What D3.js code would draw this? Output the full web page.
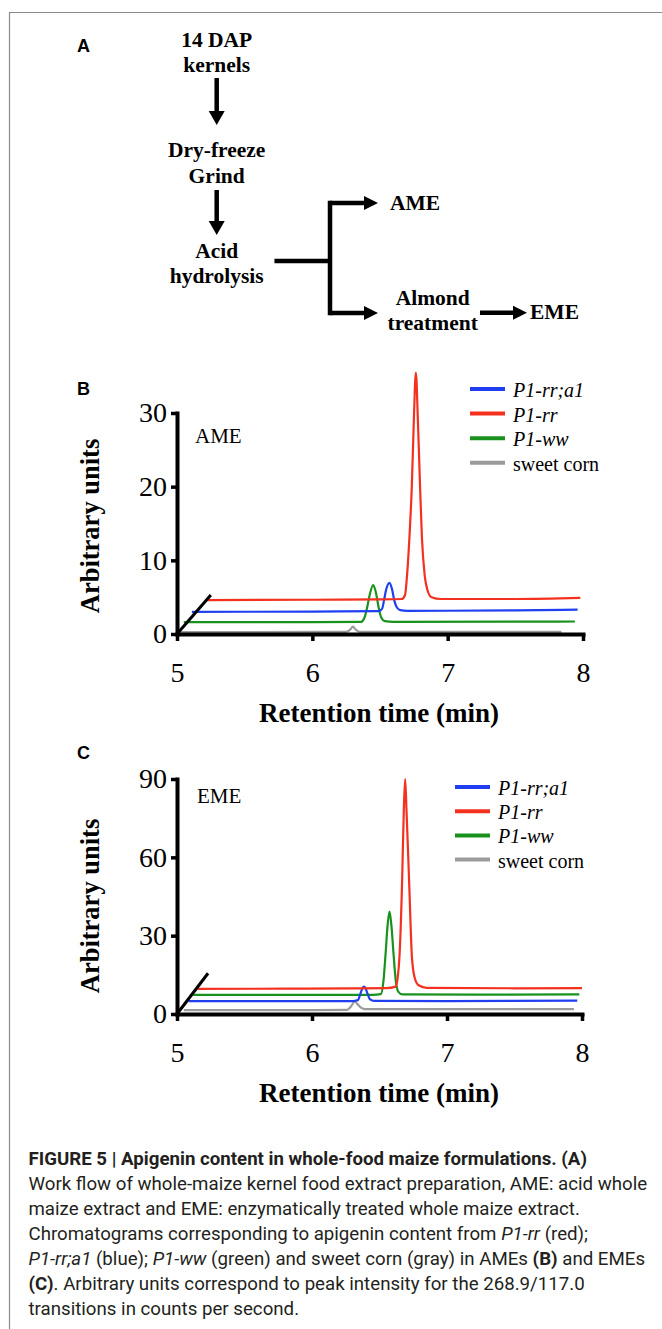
<!DOCTYPE html>
<html>
<head>
<meta charset="utf-8">
<script src="https://cdn.jsdelivr.net/npm/d3@7"></script>
<style>
body { margin: 0; background: #fff; }
svg { display: block; }
</style>
</head>
<body>
<svg id="fig" width="662" height="1329"></svg>
<script>
// tick values
var xTicks = [5, 6, 7, 8];
var ameTicks = [0, 10, 20, 30];
var emeTicks = [0, 30, 60, 90];

// legend order: blue, red, green, gray
var seriesNames = ["P1-rr;a1", "P1-rr", "P1-ww", "sweet corn"];
var seriesItalic = [true, true, true, false];
var colors = ["#1f3ff0", "#f4311f", "#18921c", "#9b9b9b"];

// chromatograms: [retention time (min), arbitrary units]
var ameBlue = [[5.11,3.0],[6.0,3.05],[6.49,3.1],[6.515,3.4],[6.53,4.6],[6.545,6.0],[6.57,6.95],[6.59,6.0],[6.605,4.6],[6.625,3.6],[6.65,3.25],[6.7,3.15],[7.5,3.2],[7.96,3.3]];
var ameRed = [[5.21,4.6],[6.0,4.65],[6.5,4.7],[6.66,4.75],[6.685,5.3],[6.70,8],[6.72,14],[6.735,20],[6.75,29],[6.765,35.5],[6.78,29],[6.796,20],[6.81,13],[6.83,8],[6.85,6],[6.88,5],[6.95,4.75],[7.5,4.75],[7.98,4.9]];
var ameGreen = [[5.05,1.6],[6.0,1.6],[6.36,1.65],[6.385,2.2],[6.405,3.6],[6.425,5.4],[6.45,6.65],[6.47,5.6],[6.49,3.6],[6.51,2.2],[6.535,1.75],[6.6,1.65],[7.94,1.7]];
var ameGray = [[5.01,0.25],[6.0,0.28],[6.25,0.3],[6.28,0.6],[6.30,1.0],[6.32,0.6],[6.35,0.3],[7.84,0.3]];

var emeBlue = [[5.085,4.9],[6.0,4.9],[6.3,4.95],[6.34,5.3],[6.36,8],[6.375,10],[6.385,10.5],[6.395,10],[6.41,8],[6.43,5.6],[6.46,5.0],[7.0,4.9],[7.965,5.1]];
var emeRed = [[5.15,9.6],[5.8,9.7],[6.3,9.8],[6.55,9.9],[6.62,10.5],[6.635,14],[6.648,22],[6.667,50],[6.68,78],[6.69,90],[6.70,78],[6.72,50],[6.74,22],[6.76,14],[6.79,11],[6.85,10],[7.5,9.85],[8.0,9.9]];
var emeGreen = [[5.12,7.3],[6.0,7.3],[6.45,7.3],[6.51,7.6],[6.53,13],[6.545,23],[6.56,34],[6.574,39.2],[6.588,34],[6.604,23],[6.62,13],[6.64,8.5],[6.67,7.5],[7.2,7.4],[7.98,7.55]];
var emeGray = [[5.05,1.5],[6.0,1.5],[6.26,1.6],[6.29,3],[6.315,4.7],[6.34,3.6],[6.36,2.5],[6.39,1.9],[7.0,1.9],[7.94,1.9]];

// axis break stroke at the origin
var ameBreak = [[5, 0], [5.25, 5.3]];
var emeBreak = [[5, 0], [5.23, 15.6]];

var svg = d3.select("#fig");
var SERIF = "'Liberation Serif', 'Times New Roman', serif";
var SANS = "'Liberation Sans', Arial, sans-serif";

// frame
svg.append("path").attr("d", "M9.5,1329V12.5H662")
  .attr("fill", "none").attr("stroke", "#8a8a8a").attr("stroke-width", 1.2);

// ---------- panel A : work flow ----------
var fc = svg.append("g");
function vArrow(x, y1, y2) {
  fc.append("line").attr("x1", x).attr("x2", x).attr("y1", y1).attr("y2", y2 - 12)
    .attr("stroke", "#000").attr("stroke-width", 4.5);
  fc.append("polygon").attr("points", [[x - 8, y2 - 14], [x + 8, y2 - 14], [x, y2]].join(" "));
}
function hArrow(x1, x2, y) {
  fc.append("line").attr("x1", x1).attr("x2", x2 - 12).attr("y1", y).attr("y2", y)
    .attr("stroke", "#000").attr("stroke-width", 4.5);
  fc.append("polygon").attr("points", [[x2 - 14, y - 7], [x2 - 14, y + 7], [x2, y]].join(" "));
}
vArrow(216.7, 78, 125);
vArrow(216.7, 190, 235);
fc.append("path").attr("d", "M276.7,261H330M330,203V313")
  .attr("fill", "none").attr("stroke", "#000").attr("stroke-width", 4.5).attr("stroke-linecap", "square");
hArrow(330, 378, 203);
hArrow(330, 378, 313);
hArrow(480, 527, 312.7);

var fcText = [
  ["14 DAP", 216.7, 46.7, "middle"], ["kernels", 216.7, 71.7, "middle"],
  ["Dry-freeze", 216.7, 156.7, "middle"], ["Grind", 216.7, 182.7, "middle"],
  ["Acid", 216.7, 258.3, "middle"], ["hydrolysis", 216.7, 283.3, "middle"],
  ["AME", 390, 210, "start"], ["Almond", 432.7, 305, "middle"],
  ["treatment", 432.7, 330, "middle"], ["EME", 530, 319.3, "start"]
];
fc.selectAll("text.fc").data(fcText).enter().append("text")
  .attr("x", function(d) { return d[1]; })
  .attr("y", function(d) { return d[2]; })
  .attr("text-anchor", function(d) { return d[3]; })
  .style("font", "bold 21.5px " + SERIF)
  .text(function(d) { return d[0]; });

svg.append("text").attr("x", 77).attr("y", 52).style("font", "bold 18px " + SANS).text("A");

// ---------- panels B, C : chromatograms ----------
function drawChart(o) {
  var g = svg.append("g");
  var x = d3.scaleLinear().domain([5, 8]).range([177, o.xr]);
  var y = d3.scaleLinear().domain([0, o.ymax]).range([o.y0, o.y1]);

  var line = d3.line()
    .x(function(d) { return x(d[0]); })
    .y(function(d) { return y(d[1]); })
    .curve(d3.curveMonotoneX);

  // gray, green, blue, red on top
  [3, 2, 0, 1].forEach(function(i) {
    g.append("path").datum(o.series[i])
      .attr("d", line)
      .attr("fill", "none")
      .attr("stroke", colors[i])
      .attr("stroke-width", 2.2);
  });

  g.append("path").datum(o.brk)
    .attr("d", d3.line().x(function(d) { return x(d[0]); }).y(function(d) { return y(d[1]); }))
    .attr("stroke", "#000").attr("stroke-width", 3);

  var xa = g.append("g").attr("transform", "translate(0," + o.y0 + ")")
    .call(d3.axisBottom(x).tickValues(xTicks).tickSize(7).tickPadding(21).tickSizeOuter(0).tickFormat(d3.format("d")));
  var ya = g.append("g").attr("transform", "translate(177,0)")
    .call(d3.axisLeft(y).tickValues(o.yTicks).tickSize(6).tickPadding(4).tickSizeOuter(0));
  [xa, ya].forEach(function(a) {
    a.select(".domain").attr("stroke", "#000").attr("stroke-width", 4).attr("stroke-linecap", "square");
    a.selectAll(".tick line").attr("stroke", "#000").attr("stroke-width", 3.5);
    a.selectAll(".tick text").attr("fill", "#000").style("font", "28px " + SERIF);
  });

  g.append("text").attr("x", 379).attr("y", o.titleY).attr("text-anchor", "middle")
    .style("font", "bold 27px " + SERIF).text("Retention time (min)");
  g.append("text").attr("transform", "translate(99," + o.yTitle + ") rotate(-90)")
    .attr("text-anchor", "middle")
    .style("font", "bold 26.5px " + SERIF).text("Arbitrary units");

  g.append("text").attr("x", o.labelX).attr("y", o.labelY)
    .style("font", "21px " + SERIF).text(o.label);

  var leg = g.selectAll("g.leg").data(seriesNames).enter().append("g")
    .attr("transform", function(d, i) { return "translate(0," + (o.legY + i * o.legStep) + ")"; });
  leg.append("line").attr("x1", o.legX).attr("x2", o.legX + 35)
    .attr("stroke", function(d, i) { return colors[i]; }).attr("stroke-width", 4);
  leg.append("text").attr("x", o.legX + 43).attr("y", 8)
    .style("font-family", SERIF).style("font-size", "20px")
    .style("font-style", function(d, i) { return seriesItalic[i] ? "italic" : "normal"; })
    .text(function(d) { return d; });

  svg.append("text").attr("x", 77).attr("y", o.letterY).style("font", "bold 18px " + SANS).text(o.letter);
}

drawChart({
  series: [ameBlue, ameRed, ameGreen, ameGray], brk: ameBreak, yTicks: ameTicks,
  ymax: 30, y0: 634, y1: 413, xr: 583, titleY: 722, yTitle: 526,
  label: "AME", labelX: 195, labelY: 443, legX: 470, legY: 389, legStep: 24.6,
  letter: "B", letterY: 395
});
drawChart({
  series: [emeBlue, emeRed, emeGreen, emeGray], brk: emeBreak, yTicks: emeTicks,
  ymax: 90, y0: 1014, y1: 779, xr: 582, titleY: 1102, yTitle: 906,
  label: "EME", labelX: 197, labelY: 803, legX: 455, legY: 787, legStep: 24.2,
  letter: "C", letterY: 759
});

// ---------- caption ----------
var capLines = [
  [["FIGURE 5 | Apigenin content in whole-food maize formulations. (A)", "b"]],
  [["Work flow of whole-maize kernel food extract preparation, AME: acid whole", ""]],
  [["maize extract and EME: enzymatically treated whole maize extract.", ""]],
  [["Chromatograms corresponding to apigenin content from ", ""], ["P1-rr", "i"], [" (red);", ""]],
  [["P1-rr;a1", "i"], [" (blue); ", ""], ["P1-ww", "i"], [" (green) and sweet corn (gray) in AMEs ", ""], ["(B)", "b"], [" and EMEs", ""]],
  [["(C)", "b"], [". Arbitrary units correspond to peak intensity for the 268.9/117.0", ""]],
  [["transitions in counts per second.", ""]]
];
var cap = svg.append("g").style("font-family", "Roboto, 'Liberation Sans', Arial, sans-serif")
  .style("font-size", "16px").attr("fill", "#231f20");
var capText = cap.selectAll("text").data(capLines).enter().append("text")
  .attr("x", 28.5)
  .attr("y", function(d, i) { return 1165 + i * 24.95; })
  .style("white-space", "pre");
capText.selectAll("tspan").data(function(d) { return d; }).enter().append("tspan")
  .style("font-weight", function(d) { return d[1] === "b" ? "bold" : "normal"; })
  .style("font-style", function(d) { return d[1] === "i" ? "italic" : "normal"; })
  .text(function(d) { return d[0]; });
var w = capText.nodes()[1].getComputedTextLength();
cap.style("font-size", (16 * 619 / w) + "px");
</script>
</body>
</html>
